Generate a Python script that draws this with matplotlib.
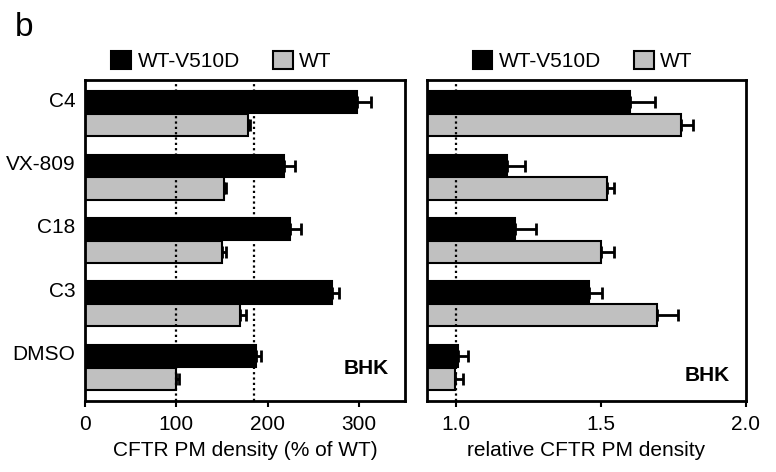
import matplotlib
matplotlib.use("Agg")
import matplotlib.pyplot as plt
from matplotlib.patches import Patch
import numpy as np

plt.rcParams['font.family'] = ['Liberation Sans', 'DejaVu Sans']

# data, bottom to top
treatments = ["DMSO", "C3", "C18", "VX-809", "C4"]
mut_pct = [187, 270, 224, 218, 297]
mut_pct_err = [6, 8, 12, 12, 16]
wt_pct = [100, 169, 150, 152, 178]
wt_pct_err = [3, 7, 4, 2, 3]

mut_rel = [1.006, 1.457, 1.205, 1.175, 1.601]
mut_rel_err = [0.034, 0.045, 0.07, 0.064, 0.086]
wt_rel = [0.998, 1.692, 1.501, 1.520, 1.776]
wt_rel_err = [0.025, 0.072, 0.045, 0.026, 0.04]

series_names = ["WT-V510D", "WT"]

fs = 15
fig = plt.figure(figsize=(7.76, 4.72), dpi=100)
W, H = 776, 472
ax1 = fig.add_axes([85 / W, 1 - 401 / H, 320 / W, 321 / H])
ax2 = fig.add_axes([427 / W, 1 - 401 / H, 319 / W, 321 / H])

y = np.arange(len(treatments))
h = 0.35
off = 0.18
dots = (0, (1, 1.4))


def panel(ax, mut, mut_err, wt, wt_err, base, bhk_y):
    ax.barh(y + off, np.array(mut) - base, left=base, height=h, color="black",
            edgecolor="black", linewidth=1.5, zorder=2)
    ax.barh(y - off, np.array(wt) - base, left=base, height=h, color="#c0c0c0",
            edgecolor="black", linewidth=1.5, zorder=2)
    ax.errorbar(mut, y + off, xerr=[np.zeros(len(mut)), mut_err], fmt="none",
                ecolor="black", elinewidth=2, capsize=4.5, capthick=2, zorder=3)
    ax.errorbar(wt, y - off, xerr=[np.zeros(len(wt)), wt_err], fmt="none",
                ecolor="black", elinewidth=2, capsize=4.5, capthick=2, zorder=3)
    ax.set_ylim(-0.53, len(treatments) - 0.47)
    for s in ax.spines.values():
        s.set_linewidth(2)
    ax.tick_params(axis="x", direction="out", length=4, width=1.5, labelsize=fs, pad=6)
    ax.tick_params(axis="y", length=0)
    ax.text(0.95, bhk_y, "BHK", transform=ax.transAxes, ha="right", va="center",
            fontsize=fs, fontweight="bold")


panel(ax1, mut_pct, mut_pct_err, wt_pct, wt_pct_err, 0, 0.10)
ax1.set_xlim(0, 350)
ax1.set_xticks([0, 100, 200, 300])
for xv in [100, 185]:
    ax1.axvline(xv, color="black", linestyle=dots, linewidth=1.6, zorder=4)
ax1.set_yticks(y + off + 0.05)
ax1.set_yticklabels(treatments, fontsize=fs)
ax1.tick_params(axis="y", pad=7)
ax1.set_xlabel("CFTR PM density (% of WT)", fontsize=fs, labelpad=5)

panel(ax2, mut_rel, mut_rel_err, wt_rel, wt_rel_err, 0.9, 0.08)
ax2.set_xlim(0.9, 2.0)
ax2.set_xticks([1.0, 1.5, 2.0])
ax2.set_xticklabels(["1.0", "1.5", "2.0"])
ax2.axvline(1.0, color="black", linestyle=dots, linewidth=1.6, zorder=4)
ax2.set_yticks([])
ax2.set_xlabel("relative CFTR PM density", fontsize=fs, labelpad=5)

handles = [Patch(facecolor="black", edgecolor="black", linewidth=1.5),
           Patch(facecolor="#c0c0c0", edgecolor="black", linewidth=1.5)]
for ax, x0 in [(ax1, 0.05), (ax2, 0.11)]:
    ax.legend(handles, series_names, loc="lower left", bbox_to_anchor=(x0, 0.995),
              ncol=2, frameon=False, fontsize=fs, handlelength=0.95, handleheight=0.95,
              handletextpad=0.3, columnspacing=1.6, borderaxespad=0.1)

fig.text(15 / W, 1 - 28 / H, "b", fontsize=24, va="center", ha="left")

fig.savefig("out.png", dpi=100)
